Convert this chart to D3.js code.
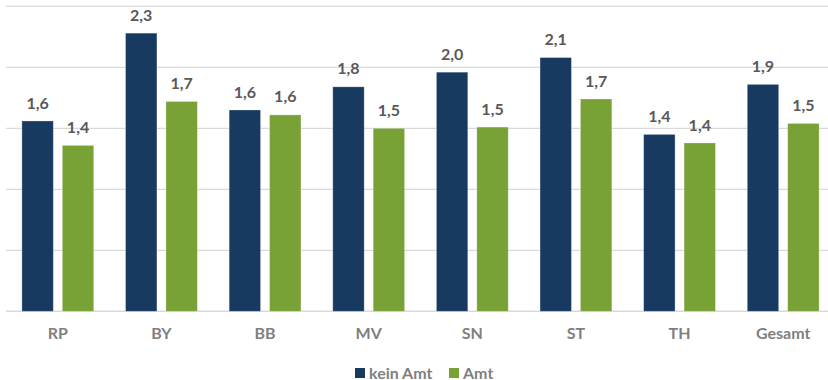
<!DOCTYPE html>
<html>
<head>
<meta charset="utf-8">
<script src="https://cdn.jsdelivr.net/npm/d3@7"></script>
<style>
  html, body { margin: 0; padding: 0; background: #ffffff; }
  svg { display: block; }
</style>
</head>
<body>
<svg id="chart" width="828" height="380"></svg>
<script>
const categories = ["RP", "BY", "BB", "MV", "SN", "ST", "TH", "Gesamt"];
const seriesNames = ["kein Amt", "Amt"];
const keinAmt = [1.56, 2.28, 1.65, 1.84, 1.96, 2.08, 1.45, 1.86];
const amt = [1.36, 1.72, 1.61, 1.50, 1.51, 1.74, 1.38, 1.54];
const yTicks = [0, 0.5, 1.0, 1.5, 2.0, 2.5];
const colors = ["#183A61", "#78A136"];

const svg = d3.select("#chart");
const fontFam = "Lato, 'Open Sans', 'Liberation Sans', sans-serif";

const x = d3.scaleBand().domain(categories).range([6, 835]).paddingInner(0.307).paddingOuter(0.1535);
const xs = d3.scaleBand().domain(seriesNames).range([0, x.bandwidth()]).paddingInner(0.223);
const y = d3.scaleLinear().domain([0, 2.5]).range([311.3, 6.3]);

// gridlines
svg.append("g").selectAll("line").data(yTicks).join("line")
  .attr("x1", 6).attr("x2", 828)
  .attr("y1", d => y(d)).attr("y2", d => y(d))
  .attr("stroke", "#d9d9d9").attr("stroke-width", d => d === 0 ? 1.5 : 1.2);

const data = categories.map((c, i) => ({ cat: c, vals: [keinAmt[i], amt[i]] }));
const fmt = v => d3.format(".1f")(v).replace(".", ",");

const groups = svg.append("g").selectAll("g").data(data).join("g")
  .attr("transform", d => `translate(${x(d.cat)},0)`);

groups.selectAll("rect").data(d => d.vals.map((v, j) => ({ v, s: seriesNames[j], j }))).join("rect")
  .attr("x", d => xs(d.s))
  .attr("y", d => y(d.v))
  .attr("width", xs.bandwidth())
  .attr("height", d => y(0) - y(d.v))
  .attr("fill", d => colors[d.j])
  .attr("stroke", "rgba(255,255,255,0.35)").attr("stroke-width", 0.8);

groups.selectAll("text.val").data(d => d.vals.map((v, j) => ({ v, s: seriesNames[j], j }))).join("text")
  .attr("class", "val")
  .attr("x", d => xs(d.s) + xs.bandwidth() / 2)
  .attr("y", d => y(d.v) - 12.4)
  .attr("text-anchor", "middle")
  .attr("font-family", fontFam).attr("font-weight", "bold").attr("font-size", 16)
  .attr("fill", "#595959")
  .text(d => fmt(d.v));

// x axis labels
const xAxis = d3.axisBottom(x).tickSize(0).tickPadding(0);
const gx = svg.append("g").attr("transform", "translate(0,327.5)").call(xAxis);
gx.select(".domain").remove();
gx.selectAll("text")
  .attr("font-family", fontFam).attr("font-weight", "bold").attr("font-size", 16)
  .attr("fill", "#7f7f7f").attr("dy", "0.72em");

// legend
const legend = svg.append("g");
const legendItems = [
  { name: seriesNames[0], color: colors[0], x: 355 },
  { name: seriesNames[1], color: colors[1], x: 449 }
];
legendItems.forEach(it => {
  legend.append("rect").attr("x", it.x).attr("y", 368).attr("width", 10).attr("height", 10).attr("fill", it.color);
  legend.append("text").attr("x", it.x + 14).attr("y", 378.5)
    .attr("font-family", fontFam).attr("font-weight", "bold").attr("font-size", 16)
    .attr("fill", "#7f7f7f").text(it.name);
});
</script>
</body>
</html>
